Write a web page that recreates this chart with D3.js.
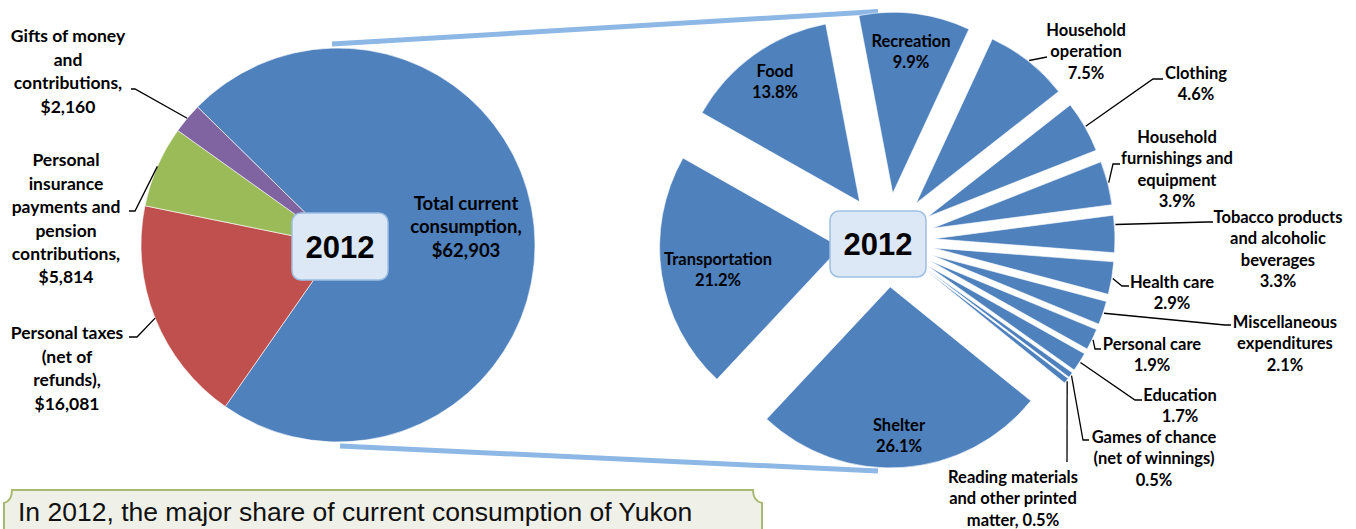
<!DOCTYPE html>
<html>
<head>
<meta charset="utf-8">
<script src="https://cdn.jsdelivr.net/npm/d3@7"></script>
<style>
  body { margin: 0; background: #fff; }
  svg { display: block; }
  .lbl { font-family: Lato, "Open Sans", sans-serif; font-weight: bold; fill: #000; }
</style>
</head>
<body>
<div id="chart"></div>
<script>
// ---- data ----
var incomeCats = ["Total current consumption", "Personal taxes (net of refunds)",
  "Personal insurance payments and pension contributions", "Gifts of money and contributions"];
var incomeVals = [62903, 16081, 5814, 2160];
var incomeColors = ["#4f81bd", "#c0504d", "#9bbb59", "#8064a2"];

var spendCats = ["Recreation", "Household operation", "Clothing", "Household furnishings and equipment",
  "Tobacco products and alcoholic beverages", "Health care", "Miscellaneous expenditures",
  "Personal care", "Education", "Games of chance (net of winnings)",
  "Reading materials and other printed matter", "Shelter", "Transportation", "Food"];
var spendVals = [9.9, 7.5, 4.6, 3.9, 3.3, 2.9, 2.1, 1.9, 1.7, 0.5, 0.5, 26.1, 21.2, 13.8];

var yearLabel = "2012";
var noteText = "In 2012, the major share of current consumption of Yukon";

// ---- layout ----
var W = 1356, H = 529;
var deg = Math.PI / 180;

var svg = d3.select("#chart").append("svg")
  .attr("width", W)
  .attr("height", H);

// left pie geometry
var L = {cx: 338, cy: 245, r: 197, start: -45.5};
// right (exploded) pie geometry
var R = {cx: 887, cy: 240, r: 181, explode: 47, start: -10.8};

// connector lines between the pies
svg.append("g").selectAll("line")
  .data([[332, 44, 878, 11.5], [340, 446, 878, 471]])
  .join("line")
  .attr("x1", d => d[0]).attr("y1", d => d[1])
  .attr("x2", d => d[2]).attr("y2", d => d[3])
  .attr("stroke", "#8db8e5")
  .attr("stroke-width", 5);

// ---- left pie ----
var pieL = d3.pie().sort(null)
  .startAngle(L.start * deg)
  .endAngle(L.start * deg + 2 * Math.PI);
var arcL = d3.arc().innerRadius(0).outerRadius(L.r);
var arcsL = pieL(incomeVals);

svg.append("g")
  .attr("transform", "translate(" + L.cx + "," + L.cy + ")")
  .selectAll("path")
  .data(arcsL)
  .join("path")
  .attr("d", arcL)
  .attr("fill", (d, i) => incomeColors[i])
  .attr("stroke", "#fff")
  .attr("stroke-width", 0.6);

function outerPt(cx, cy, r, a) {
  return [cx + r * Math.sin(a), cy - r * Math.cos(a)];
}

// labels of the left pie: centre x, first line y, line gap, lines, leader points after the arc
var leftLabels = [
  {x: 466, y: 203, gap: 23.5, size: 18.5, lines: ["Total current", "consumption,", "$62,903"], lead: null},
  {x: 67, y: 333, gap: 23.5, size: 17.5, lines: ["Personal taxes", "(net of", "refunds),", "$16,081"], lead: [[137, 337], [129, 337]]},
  {x: 66, y: 160, gap: 23.4, size: 17.5, lines: ["Personal", "insurance", "payments and", "pension", "contributions,", "$5,814"], lead: [[135, 211], [129, 211]]},
  {x: 68, y: 36, gap: 23.5, size: 17.5, lines: ["Gifts of money", "and", "contributions,", "$2,160"], lead: [[135, 89], [131, 89]]}
];

var lineGen = d3.line();

leftLabels.forEach(function(lb, i) {
  if (lb.lead) {
    var a = (arcsL[i].startAngle + arcsL[i].endAngle) / 2;
    var p0 = outerPt(L.cx, L.cy, L.r, a);
    svg.append("path")
      .attr("d", lineGen([p0].concat(lb.lead)))
      .attr("fill", "none")
      .attr("stroke", "#000")
      .attr("stroke-width", 1.3);
  }
  var t = svg.append("text").attr("class", "lbl")
    .attr("text-anchor", "middle")
    .style("font-size", lb.size + "px");
  lb.lines.forEach(function(s, j) {
    t.append("tspan").attr("x", lb.x).attr("y", lb.y + j * lb.gap).attr("dy", "0.36em").text(s);
  });
});

// ---- right pie (every slice pulled out) ----
var pieR = d3.pie().sort(null)
  .startAngle(R.start * deg)
  .endAngle(R.start * deg + 2 * Math.PI);
var arcR = d3.arc().innerRadius(0).outerRadius(R.r);
var arcsR = pieR(spendVals);

function shift(d) {
  var a = (d.startAngle + d.endAngle) / 2;
  return [R.cx + R.explode * Math.sin(a), R.cy - R.explode * Math.cos(a)];
}

svg.append("g")
  .selectAll("path")
  .data(arcsR)
  .join("path")
  .attr("transform", d => "translate(" + shift(d) + ")")
  .attr("d", arcR)
  .attr("fill", "#4f81bd")
  .attr("stroke", "#fff")
  .attr("stroke-width", 0.6);

var rightLabels = {
  "Recreation": {x: 911, y: 41, lines: ["Recreation", "9.9%"]},
  "Household operation": {x: 1086, y: 30, lines: ["Household", "operation", "7.5%"], lead: [[1047, 57]]},
  "Clothing": {x: 1196, y: 73, lines: ["Clothing", "4.6%"], lead: [[1153, 79], [1163, 79]]},
  "Household furnishings and equipment": {x: 1177, y: 137, lines: ["Household", "furnishings and", "equipment", "3.9%"], lead: [[1113, 164], [1120, 164]]},
  "Tobacco products and alcoholic beverages": {x: 1278, y: 217, lines: ["Tobacco products", "and alcoholic", "beverages", "3.3%"], lead: [[1207, 222], [1213, 222]], off: -0.25},
  "Health care": {x: 1172, y: 282, lines: ["Health care", "2.9%"], lead: [[1122, 286], [1129, 286]]},
  "Miscellaneous expenditures": {x: 1285, y: 322, lines: ["Miscellaneous", "expenditures", "2.1%"], lead: [[1225, 325], [1231, 325]]},
  "Personal care": {x: 1152, y: 344, lines: ["Personal care", "1.9%"], lead: [[1095, 349], [1101, 349]]},
  "Education": {x: 1180, y: 395, lines: ["Education", "1.7%"], lead: [[1135, 400], [1142, 400]]},
  "Games of chance (net of winnings)": {x: 1154, y: 437, lines: ["Games of chance", "(net of winnings)", "0.5%"], lead: [[1083, 440], [1089, 440]]},
  "Reading materials and other printed matter": {x: 1013, y: 477, lines: ["Reading materials", "and other printed", "matter, 0.5%"], lead: [[1067, 462]]},
  "Shelter": {x: 899, y: 425, lines: ["Shelter", "26.1%"]},
  "Transportation": {x: 718, y: 259, lines: ["Transportation", "21.2%"]},
  "Food": {x: 775, y: 71, lines: ["Food", "13.8%"]}
};

spendCats.forEach(function(c, i) {
  var lb = rightLabels[c];
  var d = arcsR[i];
  if (lb.lead) {
    var a = (d.startAngle + d.endAngle) / 2 + (lb.off || 0) * (d.endAngle - d.startAngle);
    var s = shift(d);
    var p0 = outerPt(s[0], s[1], R.r + 1, a);
    svg.append("path")
      .attr("d", lineGen([p0].concat(lb.lead)))
      .attr("fill", "none")
      .attr("stroke", "#000")
      .attr("stroke-width", 1.3);
  }
  var t = svg.append("text").attr("class", "lbl")
    .attr("text-anchor", "middle")
    .style("font-size", "16.5px");
  lb.lines.forEach(function(s, j) {
    t.append("tspan").attr("x", lb.x).attr("y", lb.y + j * 21.5).attr("dy", "0.36em").text(s);
  });
});

// ---- year boxes ----
[[292, 213, 96, 67], [830, 211, 96, 66]].forEach(function(b) {
  svg.append("rect")
    .attr("x", b[0]).attr("y", b[1])
    .attr("width", b[2]).attr("height", b[3])
    .attr("rx", 9)
    .attr("fill", "#dce8f5")
    .attr("stroke", "#9dbfe4")
    .attr("stroke-width", 1.5);
  svg.append("text")
    .attr("x", b[0] + b[2] / 2)
    .attr("y", b[1] + b[3] / 2)
    .attr("dy", "0.36em")
    .attr("text-anchor", "middle")
    .style("font-family", "'Liberation Sans', Arial, sans-serif")
    .style("font-weight", "bold")
    .style("font-size", "31px")
    .text(yearLabel);
});

// ---- note box at the bottom ----
svg.append("path")
  .attr("d", "M4,535 L4,503 Q12,501 12,490 L753,490 Q753,501 762,503 L762,535")
  .attr("fill", "#eff0e8")
  .attr("stroke", "#a9b872")
  .attr("stroke-width", 2);

svg.append("text")
  .attr("x", 18)
  .attr("y", 521)
  .style("font-family", "'Liberation Sans', Arial, sans-serif")
  .style("font-size", "26.5px")
  .attr("fill", "#111")
  .text(noteText);
</script>
</body>
</html>
